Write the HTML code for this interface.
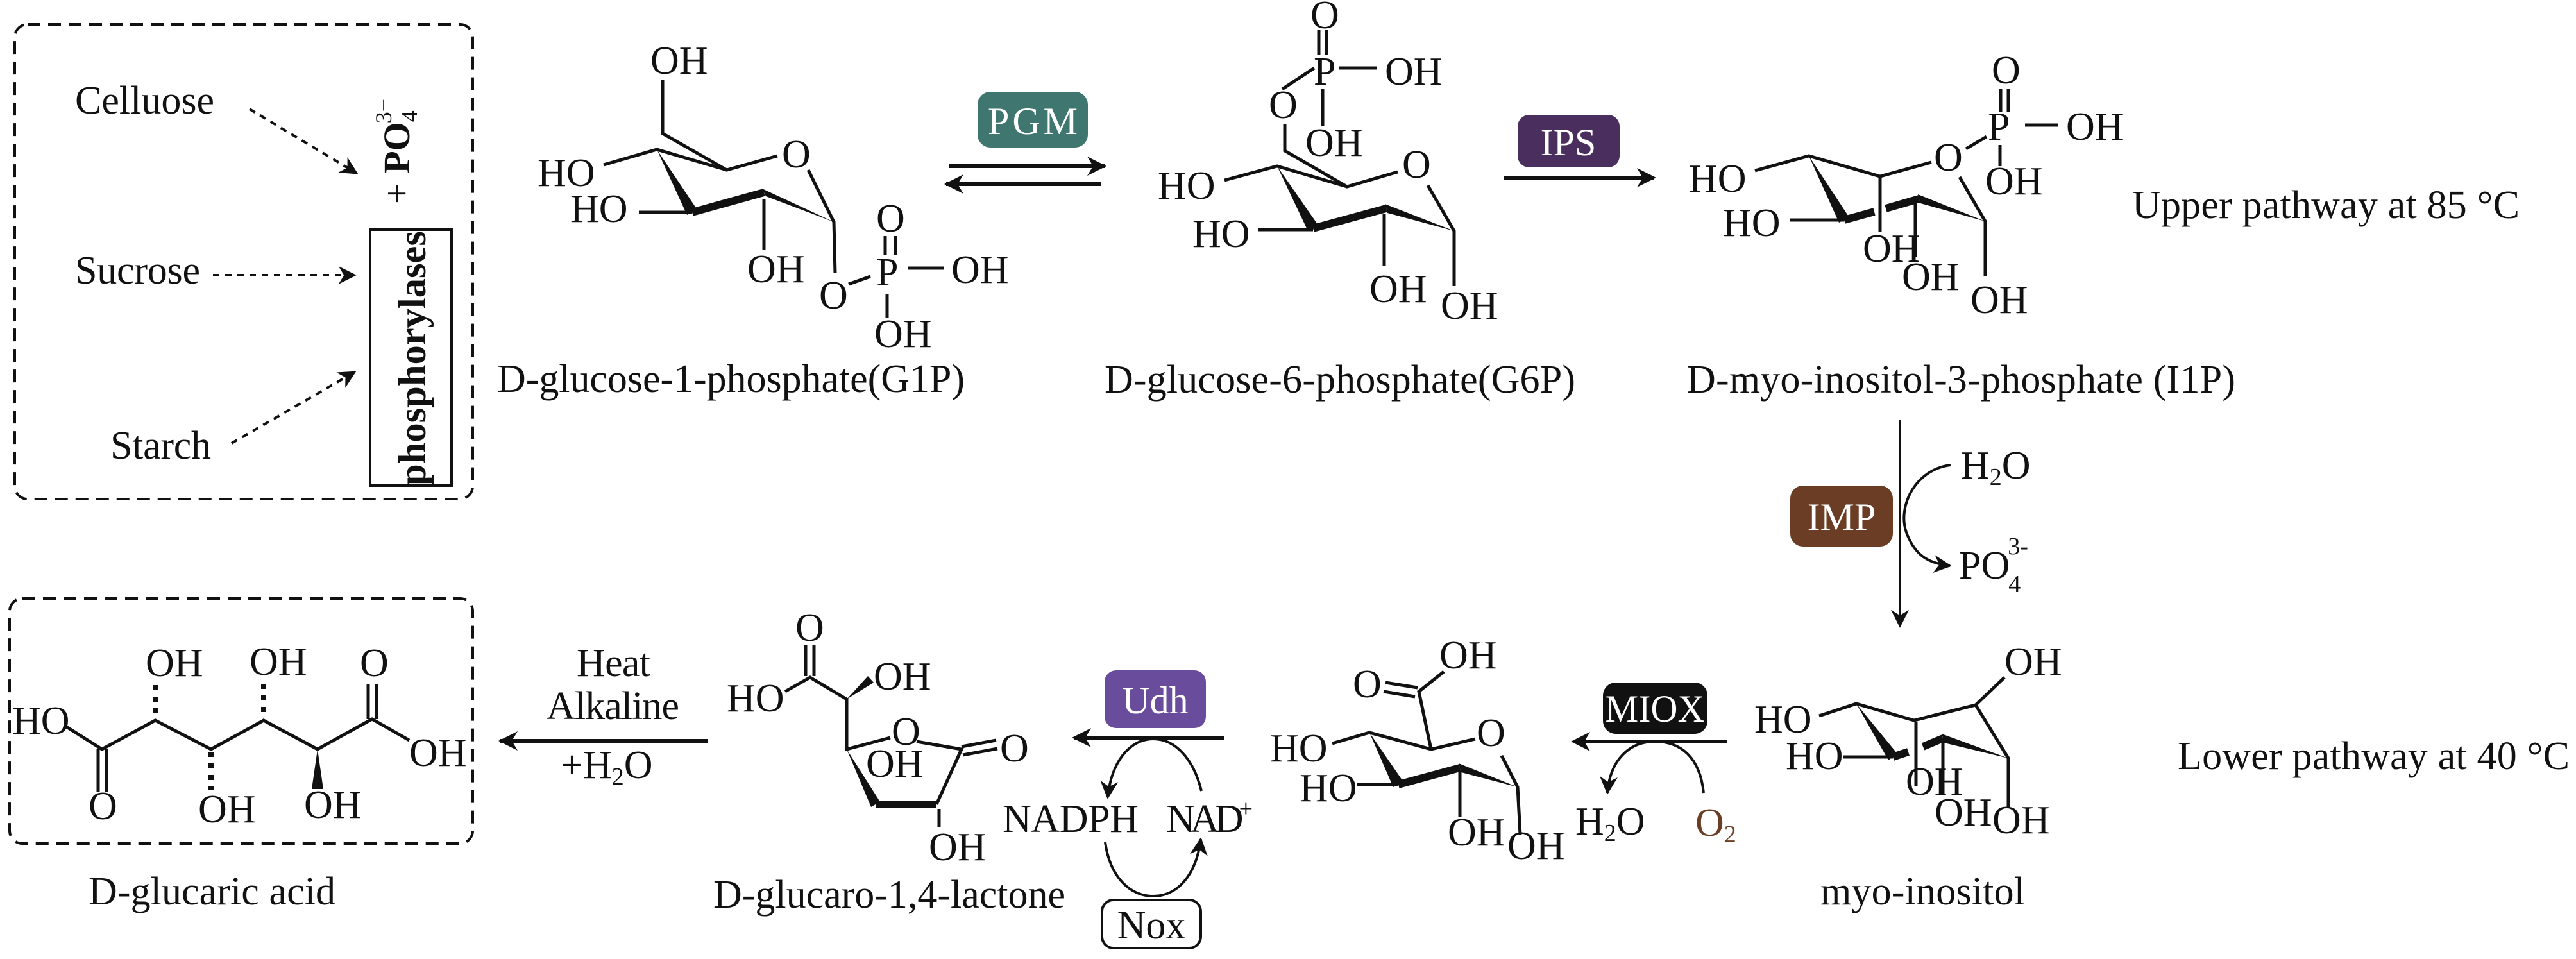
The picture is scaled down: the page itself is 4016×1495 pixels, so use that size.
<!DOCTYPE html>
<html><head><meta charset="utf-8"><style>
html,body{margin:0;padding:0;background:#fff;}
svg{display:block;}
text{font-family:"Liberation Serif","DejaVu Serif",serif;fill:#111;}
</style></head><body>
<svg width="4016" height="1495" viewBox="0 0 4016 1495" xmlns="http://www.w3.org/2000/svg">
<defs>
<marker id="ah" viewBox="0 0 10 10" refX="9" refY="5" markerWidth="5" markerHeight="5" orient="auto-start-reverse"><path d="M0,0 L10,5 L0,10 L3,5 z" fill="#111"/></marker>
<marker id="ahs" viewBox="0 0 10 10" refX="9" refY="5" markerWidth="7" markerHeight="7" orient="auto-start-reverse"><path d="M0,0 L10,5 L0,10 L3,5 z" fill="#111"/></marker>
</defs>
<g stroke="#111" stroke-width="5" fill="none" stroke-linecap="butt">
<!-- dashed boxes -->
<rect x="23" y="38" width="714" height="740" rx="20" stroke-dasharray="20 12" stroke-width="4"/>
<rect x="15" y="933" width="722" height="382" rx="20" stroke-dasharray="20 12" stroke-width="4"/>
<!-- phosphorylases box -->
<rect x="577" y="358" width="127" height="399" stroke-width="4"/>
<!-- dashed source arrows -->
<path d="M389,170 L556,270" stroke-dasharray="10 9" stroke-width="4" marker-end="url(#ahs)"/>
<path d="M332,429 L553,429" stroke-dasharray="10 9" stroke-width="4" marker-end="url(#ahs)"/>
<path d="M361,691 L553,580" stroke-dasharray="10 9" stroke-width="4" marker-end="url(#ahs)"/>

<!-- G1P -->
<path d="M1033,125 L1033,208 L1133,265 L1212,243"/>
<path d="M941,257 L1024,233 L1133,265"/>
<path d="M996,331 L1079,331"/>
<path d="M1079,331 L1191,300" stroke-width="12"/>
<path d="M1260,265 L1300,346 L1302,426"/>
<path d="M1191,310 L1191,390"/>
<path d="M1323,443 L1357,431"/>
<path d="M1380,368 L1380,398 M1396,368 L1396,398"/>
<path d="M1415,418 L1472,418"/>
<path d="M1383,458 L1383,496"/>
<!-- PGM arrows -->
<path d="M1480,259 L1722,259" stroke-width="6" marker-end="url(#ah)"/>
<path d="M1716,287 L1475,287" stroke-width="6" marker-end="url(#ah)"/>

<!-- G6P -->
<path d="M2056,46 L2056,86 M2068,46 L2068,86"/>
<path d="M2087,106 L2146,106"/>
<path d="M1999,139 L2049,106"/>
<path d="M2062,138 L2062,197"/>
<path d="M2003,193 L2003,235 L2100,291 L2179,268"/>
<path d="M1909,281 L1991,259 L2100,291"/>
<path d="M1962,358 L2047,358"/>
<path d="M2047,356 L2161,325" stroke-width="12"/>
<path d="M2226,289 L2267,360 L2267,446"/>
<path d="M2158,333 L2158,415"/>
<!-- IPS arrow -->
<path d="M2345,277 L2579,277" stroke-width="6" marker-end="url(#ah)"/>

<!-- I1P -->
<path d="M2736,266 L2820,243 L2931,275 L3011,253"/>
<path d="M3065,232 L3097,213"/>
<path d="M3119,138 L3119,174 M3131,138 L3131,174"/>
<path d="M3157,195 L3209,195"/>
<path d="M3118,226 L3118,259"/>
<path d="M2791,343 L2875,343"/>
<path d="M2875,343 L2922,330 M2940,325 L2992,310" stroke-width="12"/>
<path d="M3055,276 L3095,345 L3095,431"/>
<path d="M2931,275 L2931,362"/>
<path d="M2986,314 L2986,400"/>

<!-- IMP vertical arrow -->
<path d="M2962,655 L2962,976" stroke-width="4" marker-end="url(#ahs)"/>
<path d="M3041,725 C2985,732 2958,790 2972,830 C2985,865 3005,878 3040,882" stroke-width="4" marker-end="url(#ahs)"/>

<!-- myo-inositol -->
<path d="M3125,1056 L3080,1099 L2984,1123 L2894,1097 L2836,1116"/>
<path d="M2874,1180 L2951,1180"/>
<path d="M2951,1180 L2975,1172 M2998,1164 L3029,1151" stroke-width="12"/>
<path d="M3080,1099 L3131,1182 L3131,1258"/>
<path d="M2987,1125 L2987,1225"/>
<path d="M3029,1151 L3029,1240"/>

<!-- MIOX arrow -->
<path d="M2692,1156 L2452,1156" stroke-width="6" marker-end="url(#ah)"/>
<path d="M2656,1236 C2650,1180 2620,1156 2580,1156 C2540,1156 2510,1185 2506,1236" stroke-width="4" marker-end="url(#ahs)"/>

<!-- glucuronic acid -->
<path d="M2251,1047 L2212,1078 L2231,1168 L2300,1152"/>
<path d="M2160,1064 L2210,1072 M2157,1078 L2206,1086"/>
<path d="M2077,1159 L2135,1142 L2231,1168"/>
<path d="M2116,1223 L2180,1223"/>
<path d="M2180,1223 L2276,1197" stroke-width="12"/>
<path d="M2341,1178 L2366,1227 L2370,1301"/>
<path d="M2276,1204 L2276,1273"/>

<!-- Udh arrow + cycle -->
<path d="M1908,1150 L1674,1150" stroke-width="6" marker-end="url(#ah)"/>
<path d="M1873,1233 C1860,1180 1830,1152 1798,1152 C1760,1152 1732,1190 1727,1243" stroke-width="4" marker-end="url(#ahs)"/>
<path d="M1723,1313 C1730,1365 1760,1397 1798,1397 C1835,1397 1865,1365 1872,1308" stroke-width="4" marker-end="url(#ahs)"/>
<rect x="1718" y="1403" width="154" height="75" rx="18" stroke-width="4"/>

<!-- lactone -->
<path d="M1256,1006 L1256,1054 M1269,1006 L1269,1054"/>
<path d="M1224,1078 L1263,1056 L1320,1090 L1320,1168 L1388,1150"/>
<path d="M1429,1156 L1499,1168 L1460,1254"/>
<path d="M1499,1164 L1553,1154 M1501,1177 L1555,1167"/>
<path d="M1365,1254 L1460,1254" stroke-width="12"/>
<path d="M1464,1261 L1464,1289"/>
<!-- heat arrow -->
<path d="M1103,1155 L780,1155" stroke-width="6" marker-end="url(#ah)"/>

<!-- glucaric acid -->
<path d="M102,1132 L159,1168 L242,1123 L329,1168 L411,1123 L495,1168 L580,1121 L638,1154"/>
<path d="M153,1168 L153,1235 M166,1168 L166,1235"/>
<path d="M574,1066 L574,1121 M587,1066 L587,1121"/>
<path d="M242,1068 L242,1120 M329,1172 L329,1232 M411,1066 L411,1120" stroke-width="8" stroke-dasharray="8 10"/>
</g>
<!-- wedges -->
<g fill="#111">
<polygon points="1024,233 1087,327 1071,335"/>
<polygon points="1188,294 1194,306 1300,346"/>
<polygon points="1991,259 2055,351 2039,360"/>
<polygon points="2159,318 2163,332 2267,360"/>
<polygon points="2820,243 2883,339 2867,347"/>
<polygon points="2990,303 2994,317 3095,345"/>
<polygon points="2894,1097 2958,1175 2944,1185"/>
<polygon points="3027,1144 3031,1158 3131,1182"/>
<polygon points="2135,1142 2188,1219 2172,1227"/>
<polygon points="2274,1190 2278,1204 2366,1227"/>
<polygon points="1320,1168 1372,1250 1358,1258"/>
<polygon points="1320,1090 1362,1064 1353,1054"/>
<polygon points="495,1168 486,1230 504,1230"/>
</g>
<!-- enzyme boxes -->
<rect x="1524" y="143" width="172" height="87" rx="20" fill="#3f766f"/>
<rect x="2366" y="179" width="159" height="82" rx="18" fill="#4a2f5e"/>
<rect x="2791" y="757" width="160" height="95" rx="20" fill="#6b3d24"/>
<rect x="2499" y="1064" width="163" height="80" rx="20" fill="#111"/>
<rect x="1722" y="1045" width="158" height="90" rx="18" fill="#6a4c9c"/>
<g font-size="60" fill="#fff">
<text x="1610" y="209" text-anchor="middle" style="fill:#fff" textLength="140">PGM</text>
<text x="2445" y="242" text-anchor="middle" style="fill:#fff">IPS</text>
<text x="2871" y="826" text-anchor="middle" style="fill:#fff">IMP</text>
<text x="2580" y="1125" text-anchor="middle" style="fill:#fff" textLength="155" lengthAdjust="spacingAndGlyphs">MIOX</text>
<text x="1801" y="1112" text-anchor="middle" style="fill:#fff">Udh</text>
</g>
<g font-size="62">
<!-- left box texts -->
<text x="117" y="177" textLength="217">Celluose</text>
<text x="117" y="442" textLength="195">Sucrose</text>
<text x="172" y="715" textLength="157">Starch</text>
<text transform="translate(638,318) rotate(-90)" font-size="58">+ <tspan font-weight="bold">PO</tspan><tspan font-size="36" dy="12">4</tspan><tspan font-size="36" dx="-20" dy="-40">3−</tspan></text>
<text transform="translate(663,757) rotate(-90)" font-size="60" font-weight="bold" textLength="397" lengthAdjust="spacingAndGlyphs">phosphorylases</text>

<!-- G1P -->
<text x="1014" y="115">OH</text>
<text x="1219" y="261">O</text>
<text x="838" y="290">HO</text>
<text x="889" y="346">HO</text>
<text x="1165" y="440">OH</text>
<text x="1277" y="481">O</text>
<text x="1366" y="445">P</text>
<text x="1366" y="361">O</text>
<text x="1483" y="441">OH</text>
<text x="1363" y="541">OH</text>
<text x="775" y="611" textLength="729">D-glucose-1-phosphate(G1P)</text>

<!-- G6P -->
<text x="2043" y="44">O</text>
<text x="2048" y="132">P</text>
<text x="2159" y="132">OH</text>
<text x="1978" y="184">O</text>
<text x="2035" y="243">OH</text>
<text x="2186" y="277">O</text>
<text x="1805" y="310">HO</text>
<text x="1859" y="385">HO</text>
<text x="2135" y="471">OH</text>
<text x="2246" y="497">OH</text>
<text x="1722" y="612" textLength="734">D-glucose-6-phosphate(G6P)</text>

<!-- I1P -->
<text x="3105" y="130">O</text>
<text x="3099" y="218">P</text>
<text x="3221" y="218">OH</text>
<text x="3015" y="266">O</text>
<text x="3095" y="303">OH</text>
<text x="2633" y="299">HO</text>
<text x="2686" y="368">HO</text>
<text x="2904" y="408">OH</text>
<text x="2965" y="452">OH</text>
<text x="3072" y="488">OH</text>
<text x="2630" y="612" textLength="855">D-myo-inositol-3-phosphate (I1P)</text>
<text x="3324" y="340" textLength="604">Upper pathway at 85 °C</text>

<!-- IMP side -->
<text x="3057" y="746">H<tspan font-size="38" dy="10">2</tspan><tspan dy="-10">O</tspan></text>
<text x="3054" y="902">PO<tspan font-size="38" dx="-2" dy="21">4</tspan><tspan font-size="38" dx="-20" dy="-59">3-</tspan></text>

<!-- myo-inositol -->
<text x="3125" y="1052">OH</text>
<text x="2735" y="1142">HO</text>
<text x="2784" y="1199">HO</text>
<text x="2971" y="1239">OH</text>
<text x="3016" y="1287">OH</text>
<text x="3106" y="1299">OH</text>
<text x="2838" y="1410" textLength="319">myo-inositol</text>
<text x="3395" y="1199" textLength="611">Lower pathway at 40 °C</text>

<!-- MIOX side -->
<text x="2456" y="1301">H<tspan font-size="38" dy="10">2</tspan><tspan dy="-10">O</tspan></text>
<text x="2643" y="1303" style="fill:#6b3d24">O<tspan font-size="38" dy="10" style="fill:#6b3d24">2</tspan></text>

<!-- glucuronic acid -->
<text x="2244" y="1042">OH</text>
<text x="2109" y="1087">O</text>
<text x="2302" y="1163">O</text>
<text x="1980" y="1187">HO</text>
<text x="2026" y="1249">HO</text>
<text x="2257" y="1318">OH</text>
<text x="2350" y="1339">OH</text>

<!-- cofactors -->
<text x="1563" y="1297" textLength="212">NADPH</text>
<text x="1818" y="1297" textLength="135">NAD<tspan font-size="38" dy="-24">+</tspan></text>
<text x="1795" y="1463" text-anchor="middle">Nox</text>

<!-- lactone -->
<text x="1240" y="999">O</text>
<text x="1133" y="1109">HO</text>
<text x="1362" y="1075">OH</text>
<text x="1390" y="1161">O</text>
<text x="1559" y="1187">O</text>
<text x="1350" y="1211">OH</text>
<text x="1448" y="1341">OH</text>
<text x="1112" y="1415" textLength="549">D-glucaro-1,4-lactone</text>

<!-- heat -->
<text x="899" y="1054" textLength="115">Heat</text>
<text x="852" y="1121" textLength="207">Alkaline</text>
<text x="874" y="1213">+H<tspan font-size="38" dy="10">2</tspan><tspan dy="-10">O</tspan></text>

<!-- glucaric acid -->
<text x="19" y="1144">HO</text>
<text x="227" y="1054">OH</text>
<text x="389" y="1052">OH</text>
<text x="561" y="1054">O</text>
<text x="638" y="1194">OH</text>
<text x="138" y="1277">O</text>
<text x="309" y="1282">OH</text>
<text x="474" y="1275">OH</text>
<text x="138" y="1410" textLength="385">D-glucaric acid</text>
</g>
</svg>
</body></html>
